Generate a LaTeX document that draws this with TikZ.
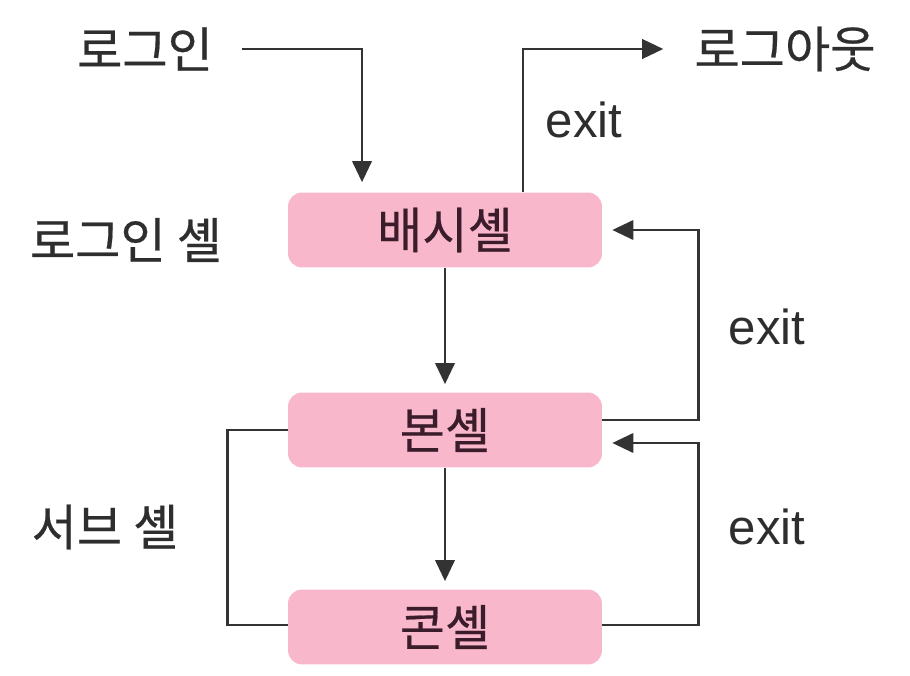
\documentclass[tikz,border=0pt]{standalone}
\usepackage{fontspec}
\setmainfont{Noto Sans CJK KR}[FakeBold=0.4]
\newfontfamily\exitfont{Liberation Sans}
\usetikzlibrary{arrows.meta,positioning}
\definecolor{shellpink}{HTML}{F8B7CB}
\definecolor{shelltext}{HTML}{3B1C2B}
\definecolor{linegray}{HTML}{333333}

\begin{document}
\begin{tikzpicture}[
    x=0.02cm, y=-0.02cm,
    shell/.style={rectangle, fill=shellpink, rounded corners=8pt, minimum width=6.28cm, minimum height=1.5cm, text=shelltext, font=\fontsize{28}{32}\selectfont},
    outtext/.style={font=\fontsize{28}{32}\selectfont, text=black!82},
    exittext/.style={font=\exitfont\fontsize{28}{32}\selectfont, text=black!82},
    arrow/.style={-{Triangle[length=12pt,width=11pt]}, line width=1.6pt, draw=linegray},
    link/.style={line width=1.6pt, draw=linegray}
]
\useasboundingbox (0,0) rectangle (910,676);

\node[shell] (bash) at (445,230) {배시셸};
\node[shell] (bon) at (445,430) {본셸};
\node[shell] (kon) at (445,627) {콘셸};

\node[outtext] (login) at (145,49) {로그인};
\node[outtext] (logout) at (785,49) {로그아웃};
\node[outtext] (loginshell) at (126,240) {로그인 셸};
\node[outtext] (subshell) at (105,527) {서브 셸};
\node[exittext] (exittop) at (584,120) {exit};
\node[exittext] (exitbash) at (767,327) {exit};
\node[exittext] (exitbon) at (767,527) {exit};

% login and logout
\draw[arrow, shorten >=0.2cm] ([xshift=0.45cm]login.east) -| ([xshift=-1.66cm]bash.north);
\draw[arrow, shorten >=0.5cm] ([xshift=1.56cm]bash.north) |- (logout.west);

% down the shells
\draw[arrow, shorten >=0.16cm] (bash.south) -- (bon.north);
\draw[arrow, shorten >=0.16cm] (bon.south) -- (kon.north);

% exits back up
\draw[arrow, shorten >=0.2cm] ([yshift=0.2cm]bon.east) -- ++(96,0) |- (bash.east);
\draw[arrow, shorten >=0.2cm] ([yshift=0.04cm]kon.east) -- ++(96,0) |- ([yshift=-0.26cm]bon.east);

% sub shell bracket
\draw[link] (bon.west) -- ++(-60,0) |- ([yshift=0.04cm]kon.west);
\end{tikzpicture}
\end{document}
